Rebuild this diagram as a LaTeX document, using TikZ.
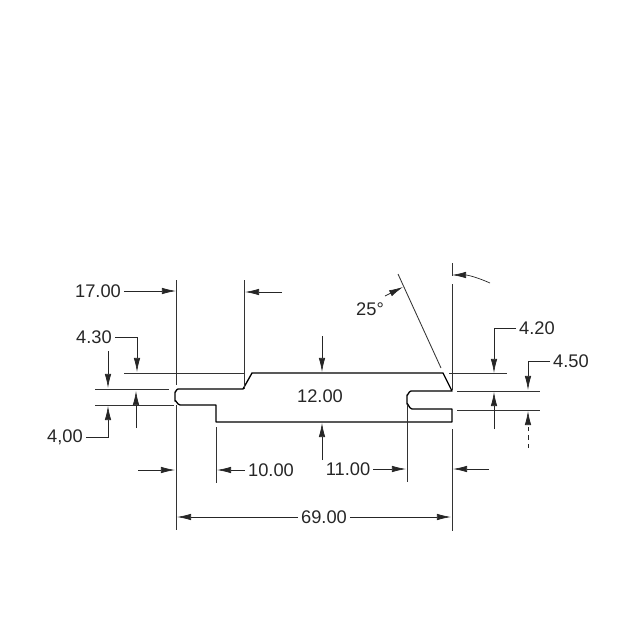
\documentclass[tikz,border=0pt]{standalone}
\usepackage{fontspec}
\setmainfont{Liberation Sans}
\usetikzlibrary{arrows.meta}

\begin{document}
\begin{tikzpicture}[x=0.025cm, y=-0.025cm]
    \tikzstyle{profile line} = [draw=black, line width=0.95pt, line join=round]
    \tikzstyle{extension line} = [draw=black!80, line width=0.6pt]
    \tikzstyle{dim line} = [draw=black!85, line width=0.5pt, -{Latex[length=10pt, width=4.6pt]}]
    \tikzstyle{dim label} = [inner sep=2pt, font=\fontsize{13}{15}\selectfont, text=black!85]
\useasboundingbox (0, 0) rectangle (640, 640);
% labels
\node[dim label] (l1700) at (98, 291) {17.00};
\node[dim label] (l430) at (94, 337) {4.30};
\node[dim label] (l400) at (65, 437) {4,00};
\node[dim label] (l1000) at (271, 470) {10.00};
\node[dim label] (l1100) at (348, 469) {11.00};
\node[dim label] (l6900) at (324, 517) {69.00};
\node[dim label] (l1200) at (320, 396) {12.00};
\node[dim label] (l420) at (537, 328) {4.20};
\node[dim label] (l450) at (571, 361) {4.50};
\node[dim label] (l25) at (370, 309) {25°};
% profile
\draw[profile line] (252, 373) -- (443, 373) -- (452, 391) -- (411, 391)
    to[out=180, in=-90] (407, 395) -- (407, 404) to[out=90, in=180] (412, 409)
    -- (452, 409) -- (452, 422) -- (216, 422) -- (216, 405) -- (180, 405)
    to[out=180, in=90] (175, 401) -- (175, 392) to[out=-90, in=180] (178, 389)
    -- (243, 389) -- cycle;
% extension lines
\coordinate (xa1) at (176, 280); \coordinate (xa2) at (176, 385);
\coordinate (xa3) at (176, 405); \coordinate (xa4) at (176, 530);
\coordinate (xb1) at (244, 280); \coordinate (xb2) at (244, 389);
\coordinate (xc1) at (216, 427); \coordinate (xc2) at (216, 483);
\coordinate (xd1) at (407, 405); \coordinate (xd2) at (407, 482);
\coordinate (xe1) at (452, 284); \coordinate (xe2) at (452, 390);
\coordinate (xe3) at (452, 429); \coordinate (xe4) at (452, 531);
\coordinate (xe5) at (452, 263); \coordinate (xe6) at (452, 276);
\coordinate (xf1) at (398, 274); \coordinate (xf2) at (441, 368);
\draw[extension line] (xa1) -- (xa2);
\draw[extension line] (xa3) -- (xa4);
\draw[extension line] (xb1) -- (xb2);
\draw[extension line] (xc1) -- (xc2);
\draw[extension line] (xd1) -- (xd2);
\draw[extension line] (xe1) -- (xe2);
\draw[extension line] (xe3) -- (xe4);
\draw[extension line] (xe5) -- (xe6);
\draw[extension line] (xf1) -- (xf2);
\coordinate (ya1) at (124, 373); \coordinate (ya2) at (244, 373);
\coordinate (ya3) at (449, 373); \coordinate (ya4) at (507, 373);
\coordinate (yb1) at (95, 389); \coordinate (yb2) at (169, 389);
\coordinate (yb3) at (457, 391); \coordinate (yb4) at (540, 391);
\coordinate (yc1) at (95, 405); \coordinate (yc2) at (174, 405);
\coordinate (yc3) at (457, 410); \coordinate (yc4) at (540, 410);
\draw[extension line] (ya1) -- (ya2);
\draw[extension line] (ya3) -- (ya4);
\draw[extension line] (yb1) -- (yb2);
\draw[extension line] (yb3) -- (yb4);
\draw[extension line] (yc1) -- (yc2);
\draw[extension line] (yc3) -- (yc4);
% dimension arrows
\coordinate (a1) at (176, 291); \coordinate (a2) at (282, 292); \coordinate (a3) at (245, 292);
\draw[dim line] (l1700) -- (a1);
\draw[dim line] (a2) -- (a3);
\coordinate (b1) at (137, 372); \coordinate (b2) at (108, 351); \coordinate (b3) at (108, 388);
\coordinate (b4) at (136, 428); \coordinate (b5) at (136, 391); \coordinate (b6) at (108, 406);
\draw[dim line] (l430.east) -| (b1);
\draw[dim line] (b2) -- (b3);
\draw[dim line] (b4) -- (b5);
\draw[dim line] (l400.east) -| (b6);
\coordinate (c1) at (138, 470); \coordinate (c2) at (175, 470); \coordinate (c3) at (217, 470);
\coordinate (c4) at (406, 469); \coordinate (c5) at (489, 469); \coordinate (c6) at (453, 469);
\draw[dim line] (c1) -- (c2);
\draw[dim line] (l1000) -- (c3);
\draw[dim line] (l1100) -- (c4);
\draw[dim line] (c5) -- (c6);
\coordinate (d1) at (177, 517); \coordinate (d2) at (451, 517);
\draw[dim line] (l6900) -- (d1);
\draw[dim line] (l6900) -- (d2);
\coordinate (e1) at (322, 336); \coordinate (e2) at (322, 372);
\coordinate (e3) at (322, 460); \coordinate (e4) at (322, 423);
\draw[dim line] (e1) -- (e2);
\draw[dim line] (e3) -- (e4);
\coordinate (f1) at (494, 373); \coordinate (f2) at (494, 429); \coordinate (f3) at (494, 392);
\coordinate (f4) at (528, 390); \coordinate (f5) at (528, 448); \coordinate (f6) at (528, 411);
\draw[dim line] (l420.west) -| (f1);
\draw[dim line] (f2) -- (f3);
\draw[dim line] (l450.west) -| (f4);
\draw[dim line, dashed] (f5) -- (f6);
\coordinate (g1) at (385, 296); \coordinate (g2) at (403, 287);
\coordinate (g3) at (490, 283); \coordinate (g4) at (452, 275);
\draw[dim line] (g1) -- (g2);
\draw[dim line] (g3) to[bend right=12] (g4);
\end{tikzpicture}
\end{document}
